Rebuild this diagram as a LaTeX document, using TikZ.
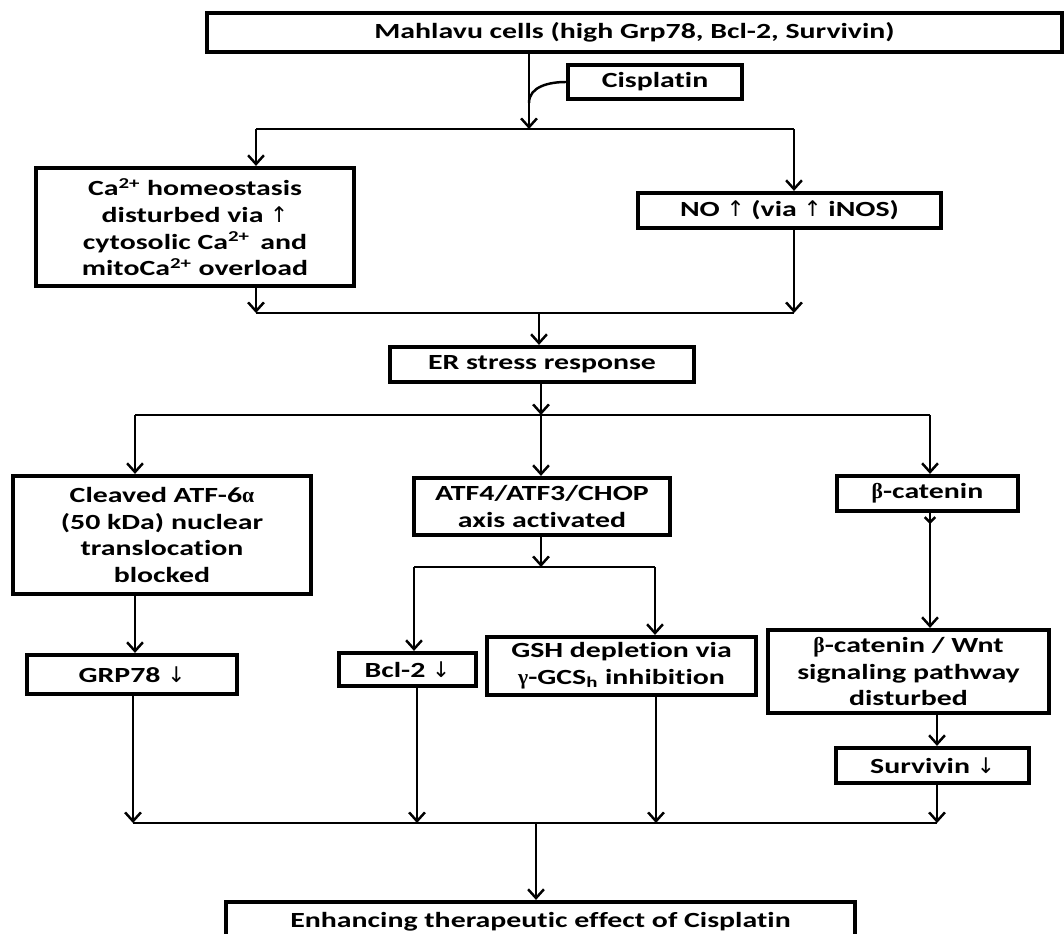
\documentclass[tikz,border=0pt]{standalone}
\usepackage{fontspec}
\setmainfont{Carlito}[FakeStretch=1.38, Ligatures=NoCommon]
\newfontfamily\symfont{Liberation Serif}
\newfontfamily\arrowfont{DejaVu Sans}
\newcommand{\upar}{{\arrowfont\mdseries ↑}}
\newcommand{\downar}{{\arrowfont\mdseries ↓}}
\usetikzlibrary{arrows.meta}

\begin{document}
\begin{tikzpicture}[x=0.02cm, y=-0.02cm, line width=1.4pt,
    box/.style={draw, line width=2.4pt, align=center, inner sep=0pt,
      font=\fontsize{12.3}{15.2}\selectfont\bfseries},
    arr/.style={-{Straight Barb[length=5pt,width=9pt]}}]
            %\draw[lightgray] (0, 0) grid[step=100] (1064, 933);
            \useasboundingbox (0, 0) rectangle (1064, 933);
            \clip (0, 0) rectangle (1064, 933);
            \node[box, minimum width=17.1cm, minimum height=0.78cm] (cells) at (634.5, 32.5) {Mahlavu cells (high Grp78, Bcl-2, Survivin)};
            \node[box, minimum width=3.48cm, minimum height=0.68cm] (cis) at (655, 82) {Cisplatin};
            \node[box, minimum width=6.36cm, minimum height=2.36cm] (ca) at (195, 227) {Ca\textsuperscript{2+} homeostasis\\disturbed via \upar\\cytosolic Ca\textsuperscript{2+}\, and\\mitoCa\textsuperscript{2+} overload};
            \node[box, minimum width=6.06cm, minimum height=0.70cm] (no) at (789.5, 210.5) {NO \upar\ (via \upar\ iNOS)};
            \node[box, minimum width=6.08cm, minimum height=0.70cm] (er) at (542, 364.5) {ER stress response};
            \node[box, minimum width=5.96cm, minimum height=2.36cm] (atf6) at (162, 535) {Cleaved ATF-6{\symfont α}\\(50 kDa) nuclear\\translocation\\blocked};
            \node[box, minimum width=5.12cm, minimum height=1.14cm] (atf4) at (542, 506.5) {ATF4/ATF3/CHOP\\axis activated};
            \node[box, minimum width=3.62cm, minimum height=0.70cm] (bcat) at (927.5, 493.5) {{\symfont β}-catenin};
            \node[box, minimum width=4.2cm, minimum height=0.78cm] (grp) at (132, 674.5) {GRP78 \downar};
            \node[box, minimum width=2.74cm, minimum height=0.66cm] (bcl) at (407.5, 669.5) {Bcl-2 \downar};
            \node[box, minimum width=5.38cm, minimum height=1.16cm] (gsh) at (621.5, 666) {GSH depletion via\\{\symfont γ}-GCS\textsubscript{h} inhibition};
            \node[box, minimum width=5.62cm, minimum height=1.66cm] (wnt) at (908.5, 671.5) {{\symfont β}-catenin / Wnt\\signaling pathway\\disturbed};
            \node[box, minimum width=3.86cm, minimum height=0.70cm] (surv) at (932.5, 765.5) {Survivin \downar};
            \node[box, minimum width=12.58cm, minimum height=0.80cm] (final) at (540.5, 922) {Enhancing therapeutic effect of Cisplatin};
            \coordinate (stem) at (529, 129);
            \coordinate (cisIn) at (529, 103);
            \coordinate (caIn) at (256, 129);
            \coordinate (noIn) at (794, 129);
            \coordinate (caOut) at (256, 313);
            \coordinate (noOut) at (794, 313);
            \coordinate (erIn) at (539, 313);
            \coordinate (erOut) at (541, 415);
            \coordinate (atf6In) at (135, 415);
            \coordinate (bcatIn) at (930, 415);
            \coordinate (atf4Out) at (541, 567);
            \coordinate (bclIn) at (414, 567);
            \coordinate (gshIn) at (655, 567);
            \coordinate (grpOut) at (133, 823);
            \coordinate (bclOut) at (417, 823);
            \coordinate (gshOut) at (656, 823);
            \coordinate (survOut) at (937, 823);
            \coordinate (endIn) at (536, 823);
            \draw[arr] (cells.south -| stem) -- (stem);
            \draw (cis.west) to[out=180, in=90] (cisIn);
            \draw (caIn) -- (noIn);
            \draw[arr] (caIn) -- (caIn |- ca.north);
            \draw[arr] (noIn) -- (noIn |- no.north);
            \draw[arr] (ca.south -| caOut) -- (caOut);
            \draw[arr] (no.south -| noOut) -- (noOut);
            \draw (caOut) -- (noOut);
            \draw[arr] (erIn) -- (erIn |- er.north);
            \draw[arr] (er.south -| erOut) -- (erOut);
            \draw (atf6In) -- (bcatIn);
            \draw[arr] (atf6In) -- (atf6In |- atf6.north);
            \draw[arr] (erOut) -- (erOut |- atf4.north);
            \draw[arr] (bcatIn) -- (bcatIn |- bcat.north);
            \draw[arr] (atf6In |- atf6.south) -- (atf6In |- grp.north);
            \draw[arr] (atf4.south -| atf4Out) -- (atf4Out);
            \draw (bclIn) -- (gshIn);
            \draw[arr] (bclIn) -- (bclIn |- bcl.north);
            \draw[arr] (gshIn) -- (gshIn |- gsh.north);
            \draw[arr] (bcat.south -| bcatIn) -- (bcatIn |- wnt.north);
            \draw[-{Straight Barb[length=3pt,width=6pt]}] (bcat.south -| bcatIn) -- ++(0, 11);
            \draw[arr] (wnt.south -| survOut) -- (survOut |- surv.north);
            \draw[arr] (grp.south -| grpOut) -- (grpOut);
            \draw[arr] (bcl.south -| bclOut) -- (bclOut);
            \draw[arr] (gsh.south -| gshOut) -- (gshOut);
            \draw[arr] (surv.south -| survOut) -- (survOut);
            \draw (grpOut) -- (survOut);
            \draw[arr] (endIn) -- (endIn |- final.north);
        \end{tikzpicture}
\end{document}
